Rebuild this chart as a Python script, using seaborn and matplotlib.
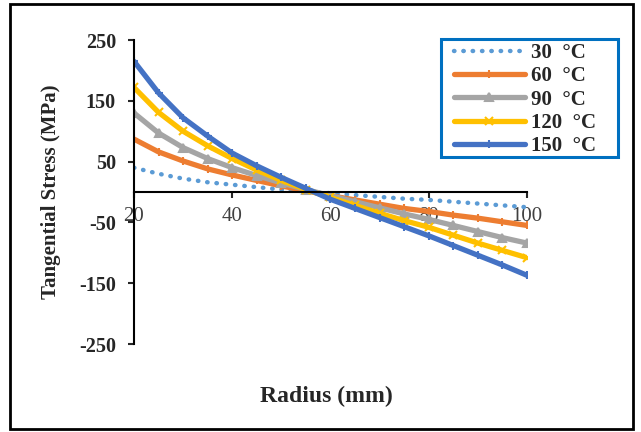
import pandas as pd
import numpy as np
from matplotlib import pyplot as plt
from matplotlib.patches import Rectangle
import seaborn as sns

# values (MPa at each radius in mm)
radius = [20, 25, 30, 35, 40, 45, 50, 55, 60, 65, 70, 75, 80, 85, 90, 95, 100]
stress_30 = [40, 30, 22, 16, 12, 8, 4, 1, -2, -5, -8, -11, -13, -16, -19, -22, -25]
stress_60 = [87, 66, 51, 38, 28, 19, 10, 2, -6, -13, -20, -27, -32, -38, -43, -49, -55]
stress_90 = [130, 97, 73, 55, 40, 27, 15, 4, -6, -16, -26, -36, -45, -55, -65, -75, -84]
stress_120 = [172, 131, 100, 76, 55, 36, 19, 4, -9, -22, -35, -47, -58, -71, -84, -96, -108]
stress_150 = [215, 163, 122, 92, 64, 43, 24, 6, -12, -27, -42, -57, -72, -88, -104, -120, -137]

labels = ['30  °C', '60  °C', '90  °C', '120  °C', '150  °C']
colors = ['#5B9BD5', '#ED7D31', '#A5A5A5', '#FFC000', '#4472C4']
markers = [None, '+', '^', 'x', '+']

series = [stress_30, stress_60, stress_90, stress_120, stress_150]
df = pd.concat([pd.DataFrame({'radius': radius, 'stress': s, 'temp': lab})
                for s, lab in zip(series, labels)], ignore_index=True)

sns.set_style('white')
plt.rcParams['font.family'] = ['Liberation Serif', 'DejaVu Serif']
plt.rcParams['axes.unicode_minus'] = False

fig = plt.figure(figsize=(6.41, 4.32), dpi=100)
ax = fig.add_axes([0.209, 0.2037, 0.613, 0.7037])

for lab, col, mk in zip(labels, colors, markers):
    sub = df[df['temp'] == lab]
    if mk is None:
        sns.lineplot(data=sub, x='radius', y='stress', ax=ax, color=col,
                     linestyle=(0, (0.1, 2.0)), linewidth=3.2,
                     dash_capstyle='round', label=lab)
    else:
        sns.lineplot(data=sub, x='radius', y='stress', ax=ax, color=col,
                     linewidth=3.8, marker=mk, markersize=5.5,
                     markeredgewidth=1.5, markeredgecolor=col, label=lab)

ax.set_xlim(20, 100)
ax.set_ylim(-250, 250)
ax.set_xticks([20, 40, 60, 80, 100])
ax.set_yticks([-250, -150, -50, 50, 150, 250])

ax.spines['top'].set_visible(False)
ax.spines['right'].set_visible(False)
ax.spines['bottom'].set_position(('data', 0))
for sp in ['left', 'bottom']:
    ax.spines[sp].set_color('black')
    ax.spines[sp].set_linewidth(1.5)

ax.tick_params(axis='x', direction='out', length=4, width=1.5, pad=7,
               labelsize=15, labelcolor='#404040', bottom=True)
ax.tick_params(axis='y', direction='out', length=4, width=1.5, pad=9,
               labelsize=14.5, left=True)
for t in ax.get_yticklabels():
    t.set_fontweight('bold')

ax.set_ylabel('Tangential Stress (MPa)', fontsize=15, fontweight='bold')
ax.yaxis.set_label_coords(-0.185, 0.5)
ax.set_xlabel('Radius (mm)', fontsize=17, fontweight='bold')
ax.xaxis.label.set_va('center')
ax.xaxis.set_label_coords(0.49, -0.171)

# legend without its own frame, placed inside a drawn blue box
leg = ax.legend(loc='upper left', bbox_to_anchor=(454 / 641, 1 - 43 / 432),
                bbox_transform=fig.transFigure, frameon=False,
                handlelength=3.4, handletextpad=0.3, borderpad=0,
                labelspacing=0.16, borderaxespad=0,
                prop={'weight': 'bold', 'size': 15})
fig.patches.append(Rectangle((441 / 641, 1 - 157 / 432), 177 / 641, 118 / 432,
                             transform=fig.transFigure, fill=False,
                             edgecolor='#0070C0', linewidth=2.2))

# outer chart border
fig.patches.append(Rectangle((10 / 641, 3 / 432), 623 / 641, 425 / 432,
                             transform=fig.transFigure, fill=False,
                             edgecolor='black', linewidth=2))

fig.savefig('out.png', dpi=100)
